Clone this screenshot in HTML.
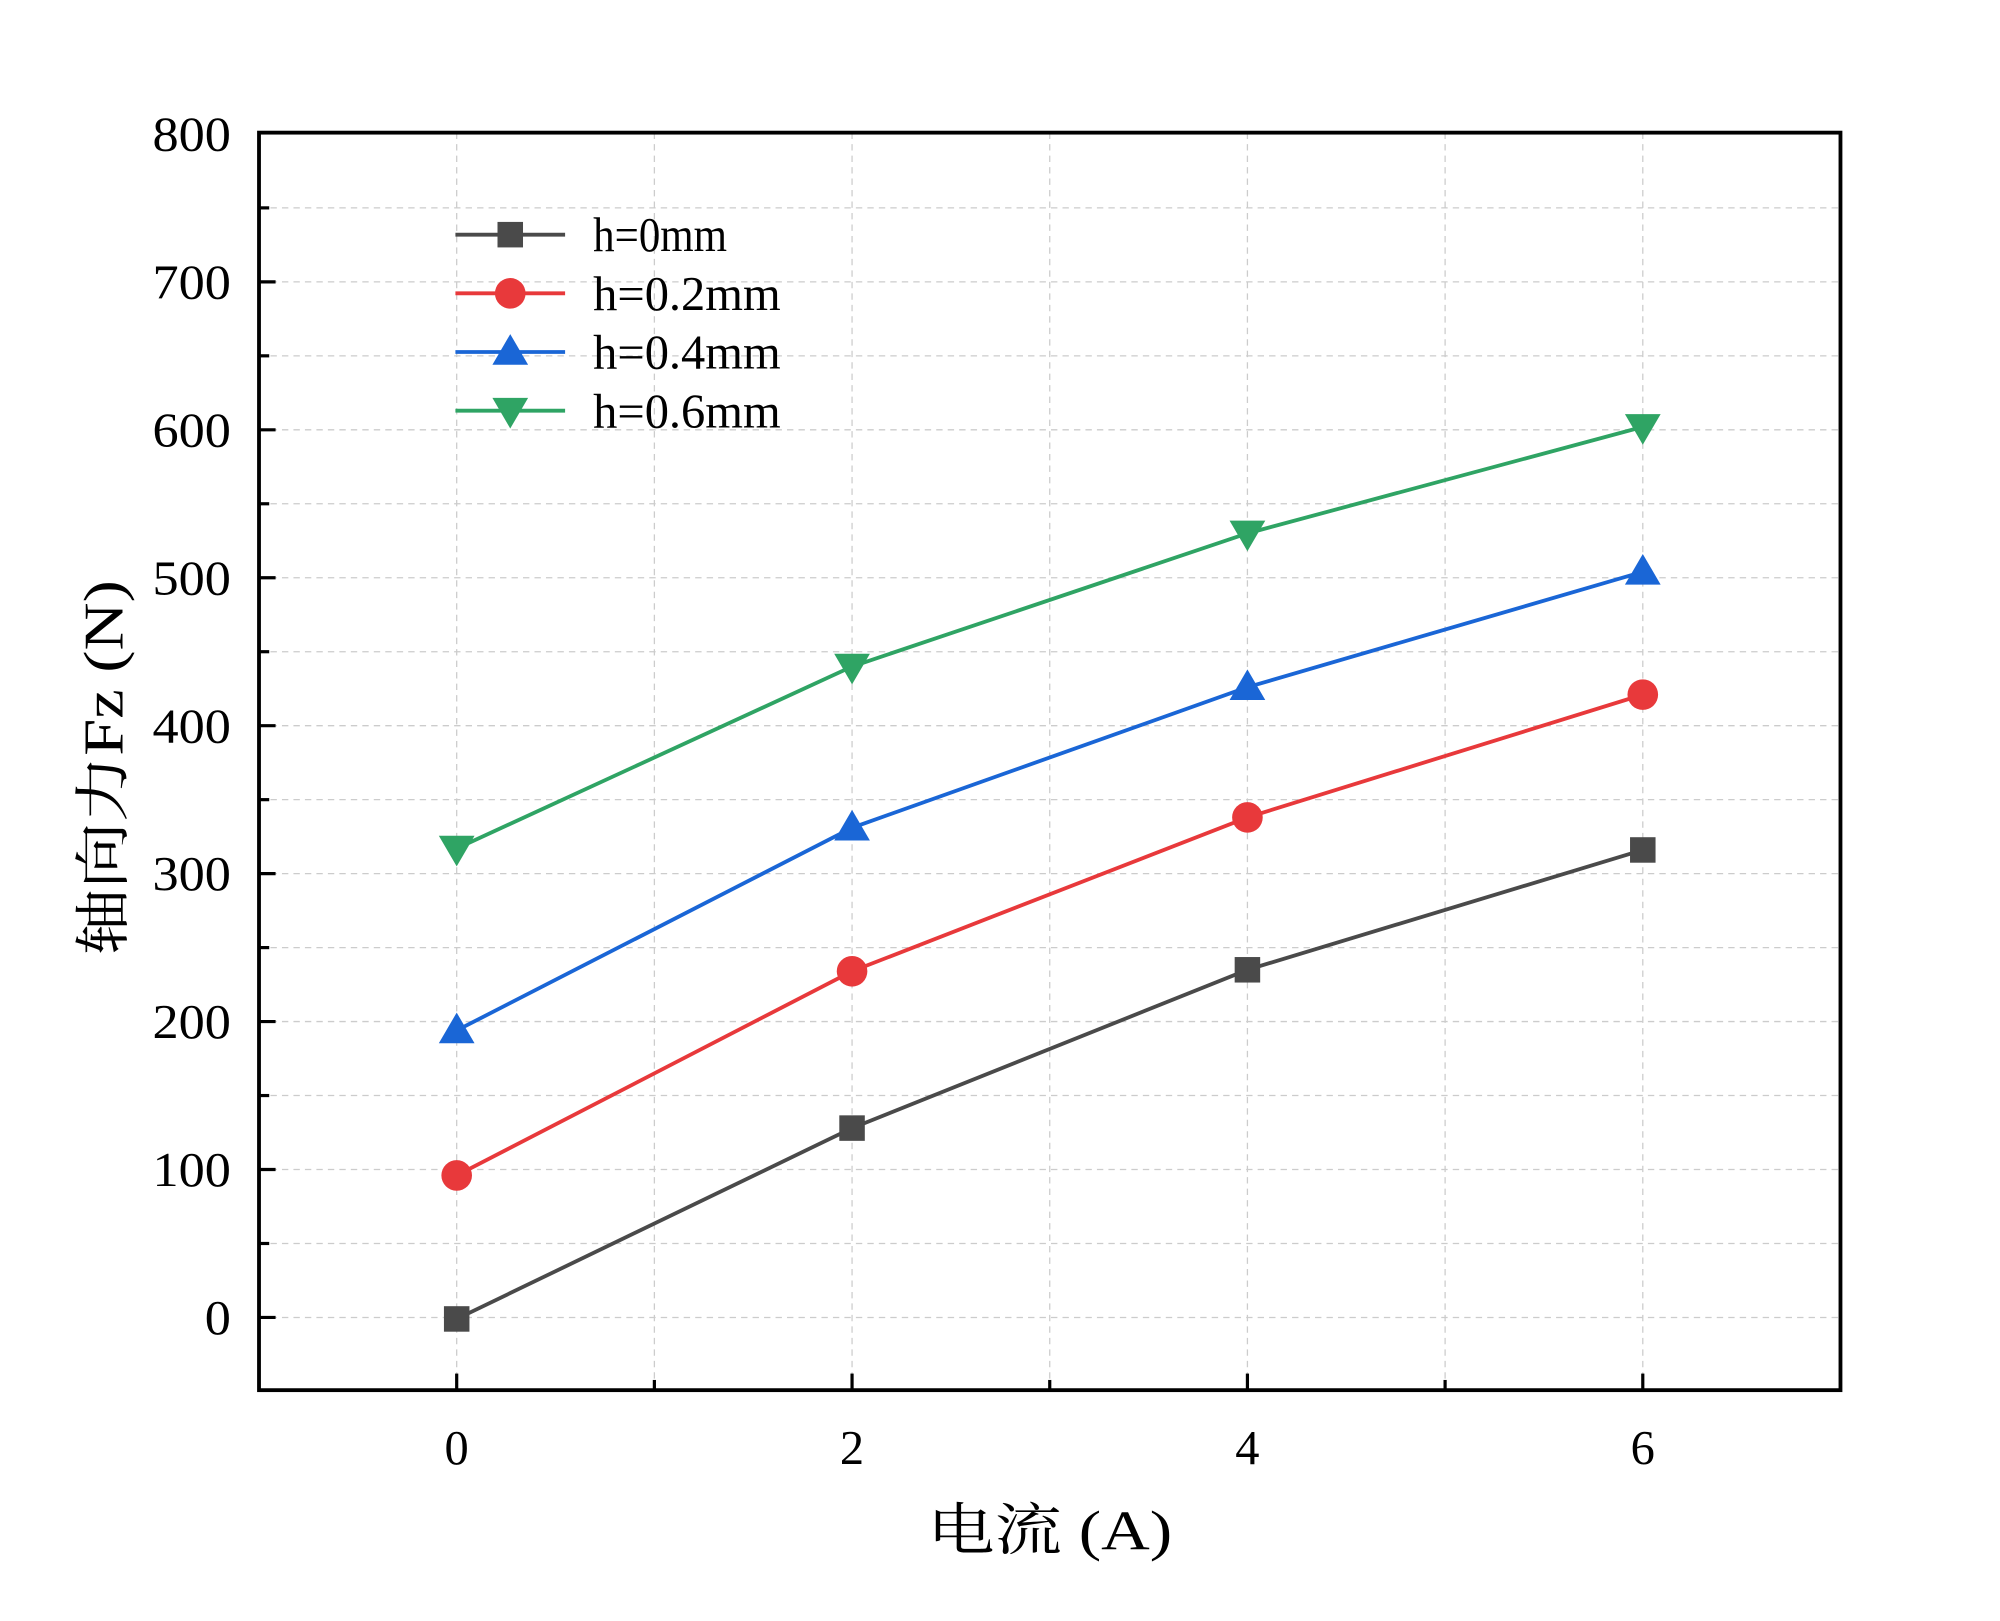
<!DOCTYPE html>
<html><head><meta charset="utf-8"><style>
html,body{margin:0;padding:0;background:#fff;}
svg{display:block;}
text{font-family:"Liberation Serif","Noto Serif CJK SC",serif;fill:#000;}
</style></head><body>
<svg id="chart" width="2000" height="1621" viewBox="0 0 1568 1271" xmlns="http://www.w3.org/2000/svg">
<g id="grid"></g>
<g id="series"></g>
<rect x="203" y="104" width="1240" height="986" fill="none" stroke="#000" stroke-width="3"/>
<g id="ticks"></g>
<g id="legend"></g>
<text x="823" y="1215" font-size="44" text-anchor="middle" textLength="192" lengthAdjust="spacingAndGlyphs">电流 (A)</text>
<text transform="translate(96,602) rotate(-90)" font-size="44" text-anchor="middle" textLength="294" lengthAdjust="spacingAndGlyphs">轴向力Fz (N)</text>
</svg>
<script>
const categories=[0,2,4,6];
const seriesNames=["h=0mm","h=0.2mm","h=0.4mm","h=0.6mm"];
const s0=[-1,128,235,316];
const s1=[96,234,338,421];
const s2=[194,331,426,504];
const s3=[317,440,530,602];
const yTicks=[0,100,200,300,400,500,600,700,800];
const xTicks=[0,2,4,6];
const colors=["#4a4a4a","#e8393b","#1a66d6","#2fa464"];
const markers=["square","circle","up","down"];
const allSeries=[s0,s1,s2,s3];
const NS="http://www.w3.org/2000/svg";
const X=v=>358+(v)*155, Y=v=>1033-v*1.16;
function mk(t,a,p){const e=document.createElementNS(NS,t);for(const k in a)e.setAttribute(k,a[k]);p.appendChild(e);return e;}
const grid=document.getElementById('grid'),ticks=document.getElementById('ticks'),ser=document.getElementById('series'),leg=document.getElementById('legend');
for(let v=-50;v<=800;v+=50){if(v<=-50||v>=800)continue;const y=Y(v);
const g=mk('line',{x1:203,x2:1443,y1:y,y2:y,stroke:'#ccc','stroke-width':1,'stroke-dasharray':'5,4'},grid);


const t=mk('line',{x1:203,x2:v%100===0?216:211,y1:y,y2:y,stroke:'#000','stroke-width':2.5},ticks);

}
for(let v=0;v<=6;v++){const x=X(v);
const g=mk('line',{x1:x,x2:x,y1:104,y2:1090,stroke:'#ccc','stroke-width':1,'stroke-dasharray':'5,4'},grid);


const t=mk('line',{x1:x,x2:x,y1:1090,y2:v%2===0?1077:1082,stroke:'#000','stroke-width':2.5},ticks);

}
yTicks.forEach(v=>{const s=String(v);const t=mk('text',{x:181,y:Y(v)+13,'font-size':38,'text-anchor':'end',textLength:s.length*20.5,lengthAdjust:'spacingAndGlyphs'},ticks);t.textContent=v;

});
xTicks.forEach(v=>{const t=mk('text',{x:X(v),y:1148,'font-size':38,'text-anchor':'middle'},ticks);t.textContent=v;

});
function marker(type,x,y,c,p){let e;
if(type==='square')e=mk('rect',{x:x-10,y:y-10,width:20,height:20,fill:c},p);
else if(type==='circle')e=mk('circle',{cx:x,cy:y,r:12,fill:c},p);
else if(type==='up')e=mk('polygon',{points:`${x},${y-14} ${x-14},${y+10} ${x+14},${y+10}`,fill:c},p);
else e=mk('polygon',{points:`${x},${y+14} ${x-14},${y-10} ${x+14},${y-10}`,fill:c},p);
return e;}
allSeries.forEach((d,i)=>{
const pl=mk('polyline',{points:d.map((v,j)=>X(categories[j])+','+Y(v)).join(' '),fill:'none',stroke:colors[i],'stroke-width':3},ser);


d.forEach((v,j)=>{const m=marker(markers[i],X(categories[j]),Y(v),colors[i],ser);

});
const ly=184+i*46;
const ll=mk('line',{x1:357,x2:443,y1:ly,y2:ly,stroke:colors[i],'stroke-width':3},leg);


const lm=marker(markers[i],400,ly,colors[i],leg);


const lt=mk('text',{x:465,y:ly+13,'font-size':38,textLength:seriesNames[i].length*21,lengthAdjust:'spacingAndGlyphs'},leg);lt.textContent=seriesNames[i];


});
</script>
</body></html>
